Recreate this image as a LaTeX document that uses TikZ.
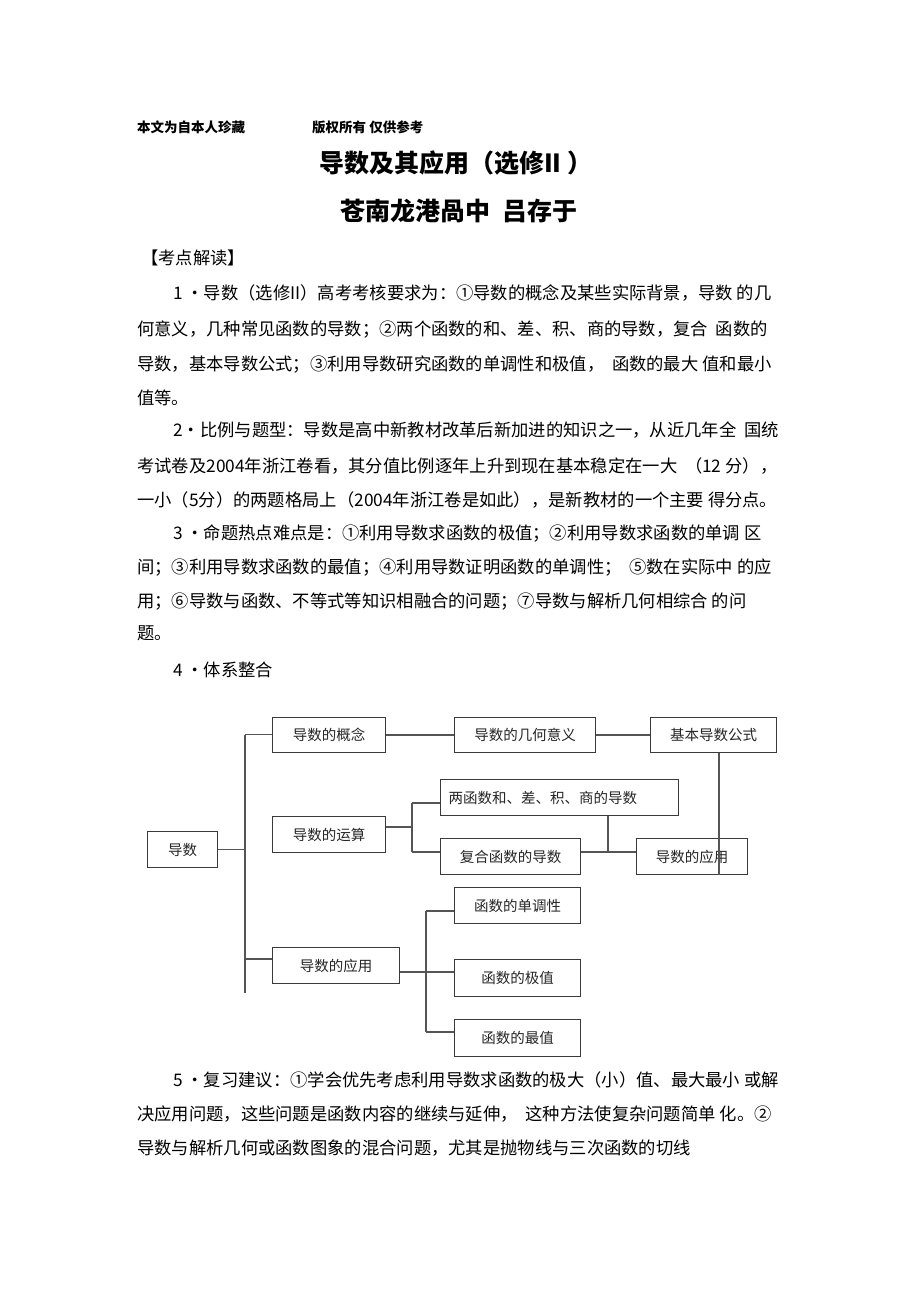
\documentclass[tikz,border=0pt]{standalone}
\usepackage{fontspec}
\setmainfont{Noto Sans CJK SC}
\newfontfamily\cjk{Noto Sans CJK SC}
\newcommand\bodyf{\cjk\fontsize{17.3}{20}\selectfont}
\newcommand\boxf{\cjk\fontsize{14.5}{17}\selectfont}
\definecolor{boxc}{HTML}{3A3A3A}
\definecolor{linec}{HTML}{555555}
\begin{document}
\begin{tikzpicture}[x=1pt,y=-1pt,
  txt/.style={anchor=base west,inner sep=0,font=\bodyf},
  hdr/.style={anchor=base west,inner sep=0,font=\cjk\bfseries\fontsize{13.5}{16}\selectfont},
  ttl/.style={anchor=base west,inner sep=0,font=\cjk\bfseries\fontsize{25}{30}\selectfont},
  box/.style={draw=boxc,line width=1.2pt,inner sep=0,anchor=north west,font=\boxf,text=black!85},
  conn/.style={draw=linec,line width=1.3pt}]
\useasboundingbox[fill=white] (0,0) rectangle (920,1304);
% header
\node[hdr] (h1) at (137,132) {本文为自本人珍藏};
\node[hdr] (h2) at (312,132) {版权所有\ 仅供参考};
\node[ttl] (t1) at (319,172.5) {导数及其应用（选修II ）};
\node[ttl] (t2) at (340,220.5) {苍南龙港咼中\hspace{12pt}吕存于};
\node[txt] (k0) at (141,264.6) {【考点解读】};
% paragraph 1
\node[txt] (p1a) at (173,299.6) {1 •导数（选修II）高考考核要求为：①导数的概念及某些实际背景，导数\ 的几};
\node[txt] (p1b) at (137,335.6) {何意义，几种常见函数的导数；②两个函数的和、差、积、商的导数，复合\ \ 函数的};
\node[txt] (p1c) at (137,370.6) {导数，基本导数公式；③利用导数研究函数的单调性和极值，\ \ 函数的最大\ 值和最小};
\node[txt] (p1d) at (137,404.6) {值等。};
% paragraph 2
\node[txt] (p2a) at (173,436.6) {2•比例与题型：导数是高中新教材改革后新加进的知识之一，从近几年全\ \ 国统};
\node[txt] (p2b) at (137,472.6) {考试卷及2004年浙江卷看，其分值比例逐年上升到现在基本稳定在一大\ \ （12 分），};
\node[txt] (p2c) at (137,506.6) {一小（5分）的两题格局上（2004年浙江卷是如此），是新教材的一个主要\ 得分点。};
% paragraph 3
\node[txt] (p3a) at (173,539.6) {3 •命题热点难点是：①利用导数求函数的极值；②利用导数求函数的单调\ 区};
\node[txt] (p3b) at (137,573.6) {间；③利用导数求函数的最值；④利用导数证明函数的单调性；\ \ ⑤数在实际中\ 的应};
\node[txt] (p3c) at (137,607.6) {用；⑥导数与函数、不等式等知识相融合的问题；⑦导数与解析几何相综合\ 的问};
\node[txt] (p3d) at (137,639.6) {题。};
\node[txt] (p4) at (173,676.6) {4 •体系整合};
% diagram boxes
\node[box,minimum width=70,minimum height=36] (d0) at (147,831) {导数};
\node[box,minimum width=113,minimum height=35] (c1) at (272,717) {导数的概念};
\node[box,minimum width=141,minimum height=35] (c2) at (454,717) {导数的几何意义};
\node[box,minimum width=126,minimum height=35] (c3) at (650,717) {基本导数公式};
\node[box,minimum width=113,minimum height=36] (r0) at (272,816) {导数的运算};
\node[box,minimum width=238,minimum height=36,text width=222,align=left] (r1) at (440,779) {两函数和、差、积、商的导数};
\node[box,minimum width=140,minimum height=36] (r2) at (440,838) {复合函数的导数};
\node[box,minimum width=111,minimum height=36] (r3) at (636,838) {导数的应用};
\node[box,minimum width=127,minimum height=36] (a0) at (272,947) {导数的应用};
\node[box,minimum width=126,minimum height=36] (a1) at (454,887) {函数的单调性};
\node[box,minimum width=126,minimum height=37] (a2) at (454,959) {函数的极值};
\node[box,minimum width=126,minimum height=37] (a3) at (454,1019) {函数的最值};
% connectors
\coordinate (tt) at (245,734.5);
\coordinate (tb) at (245,993);
\coordinate (ta) at (245,959);
\draw[conn] (tt) -- (tb);
\draw[conn] (d0.east) -- (d0.east -| tt);
\draw[conn] (tt) -- (tt -| c1.west);
\draw[conn] (ta) -- (ta -| a0.west);
\draw[conn] (c1.east) -- (c2.west);
\draw[conn] (c2.east) -- (c3.west);
\coordinate (v3) at (719,0);
\draw[conn] (v3 |- c3.south) -- (v3 |- r3.south);
\coordinate (rj) at (412,827);
\coordinate (rt) at (412,803);
\coordinate (rb) at (412,852);
\draw[conn] (rj -| r0.east) -- (rj);
\draw[conn] (rt) -- (rb);
\draw[conn] (rt) -- (rt -| r1.west);
\draw[conn] (rb) -- (rb -| r2.west);
\draw[conn] (rb -| r2.east) -- (rb -| r3.west);
\coordinate (v2) at (608,852);
\draw[conn] (v2 |- r1.south) -- (v2);
\coordinate (aj) at (426,972);
\coordinate (at) at (426,911);
\coordinate (ab) at (426,1032);
\draw[conn] (aj -| a0.east) -- (aj);
\draw[conn] (at) -- (ab);
\draw[conn] (at) -- (at -| a1.west);
\draw[conn] (aj) -- (aj -| a2.west);
\draw[conn] (ab) -- (ab -| a3.west);
% paragraph 5
\node[txt] (p5a) at (173,1086.6) {5 •复习建议：①学会优先考虑利用导数求函数的极大（小）值、最大最小\ 或解};
\node[txt] (p5b) at (137,1120.6) {决应用问题，这些问题是函数内容的继续与延伸，\ \ 这种方法使复杂问题简单\ 化。②};
\node[txt] (p5c) at (137,1154.6) {导数与解析几何或函数图象的混合问题，尤其是抛物线与三次函数的切线};
\end{tikzpicture}
\end{document}
